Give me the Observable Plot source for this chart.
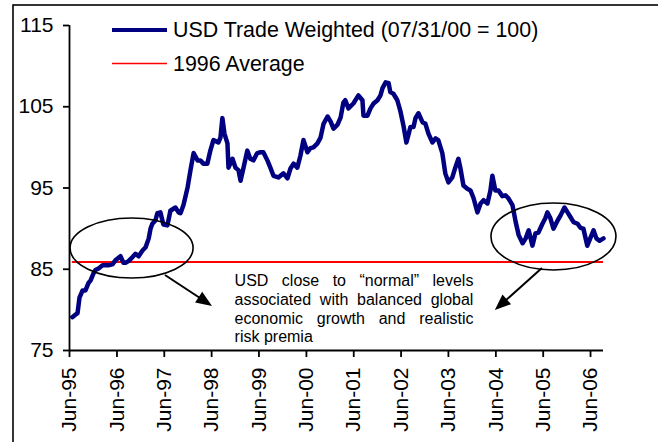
<!DOCTYPE html>
<html><head><meta charset="utf-8">
<script src="https://cdn.jsdelivr.net/npm/d3@7"></script>
<script src="https://cdn.jsdelivr.net/npm/@observablehq/plot@0.6"></script>
<style>
html,body{margin:0;padding:0;overflow:hidden;background:#fff;}
#chart{position:relative;width:658px;height:442px;}
</style></head><body><div id="chart"></div>
<script>
// ---- data ----
const dates = [
"1995-06-23","1995-07-16","1995-08-02","1995-08-17","1995-09-10","1995-10-02","1995-10-25","1995-11-10","1995-12-03","1995-12-18",
"1996-01-11","1996-02-11","1996-03-04","1996-03-27","1996-04-27","1996-05-20","1996-06-28","1996-07-21","1996-08-06","1996-08-29",
"1996-09-29","1996-10-22","1996-11-15","1996-12-15","1997-01-08","1997-02-01","1997-02-15","1997-03-01","1997-03-24","1997-04-09",
"1997-05-02","1997-05-25","1997-06-25","1997-07-18","1997-08-26","1997-09-19","1997-10-04","1997-10-27","1997-11-28","1997-12-20",
"1998-01-13","1998-02-13","1998-03-06","1998-03-29","1998-04-29","1998-05-22","1998-06-15","1998-07-23","1998-08-08","1998-08-23",
"1998-09-08","1998-10-01","1998-10-09","1998-11-09","1998-12-02","1998-12-25","1999-01-10","1999-02-02","1999-03-03","1999-03-26",
"1999-04-19","1999-05-19","1999-06-12","1999-07-05","1999-08-05","1999-08-28","1999-09-21","1999-10-29","1999-12-07","2000-01-07",
"2000-01-30","2000-02-23","2000-03-23","2000-04-16","2000-05-09","2000-06-09","2000-07-02","2000-07-25","2000-08-25","2000-09-18",
"2000-10-11","2000-11-11","2000-12-04","2000-12-27","2001-01-27","2001-02-20","2001-03-13","2001-03-28","2001-04-21","2001-05-29",
"2001-07-07","2001-08-07","2001-08-15","2001-09-15","2001-10-08","2001-11-01","2001-12-01","2001-12-24","2002-01-09","2002-02-02",
"2002-02-25","2002-03-10","2002-04-03","2002-05-03","2002-05-26","2002-06-19","2002-07-12","2002-07-27","2002-08-12","2002-09-05",
"2002-09-20","2002-10-13","2002-11-13","2002-12-06","2002-12-29","2003-01-29","2003-02-22","2003-03-15","2003-04-15","2003-05-08",
"2003-06-01","2003-07-01","2003-07-24","2003-08-17","2003-09-02","2003-09-25","2003-10-25","2003-11-18","2003-12-11","2004-01-11",
"2004-02-04","2004-02-27","2004-03-28","2004-04-20","2004-05-05","2004-05-28","2004-06-21","2004-07-21","2004-08-14","2004-09-07",
"2004-10-07","2004-11-01","2004-11-24","2004-12-24","2005-01-17","2005-02-09","2005-03-10","2005-04-02","2005-04-25","2005-05-26",
"2005-06-18","2005-07-03","2005-07-26","2005-08-19","2005-09-20","2005-10-12","2005-11-12","2005-12-06","2005-12-29","2006-01-21",
"2006-02-21","2006-03-15","2006-04-07","2006-05-07","2006-06-01","2006-06-24","2006-07-16","2006-08-09","2006-09-09"
];
const values = [
79.1,79.4,79.6,81.5,82.4,82.4,83.3,83.6,84.5,84.9,
85.1,85.5,85.5,85.5,85.6,86.1,86.6,85.8,85.8,86.0,
86.5,86.9,86.6,87.3,87.7,88.8,90.0,90.6,91.0,91.9,
92.0,90.5,90.4,92.2,92.6,92.0,91.9,92.9,95.1,97.2,
99.3,98.4,98.4,98.0,98.0,99.6,100.9,100.6,101.2,103.6,
101.7,100.5,97.5,98.6,97.5,97.2,95.9,97.5,99.6,98.6,
98.4,99.3,99.4,99.4,98.4,97.5,96.5,96.3,96.8,96.2,
97.4,98.0,97.5,99.0,100.9,99.4,99.9,100.0,100.5,101.2,
102.9,103.8,103.2,102.3,102.8,103.7,105.5,105.8,104.8,105.4,
106.4,105.8,103.9,103.9,104.8,105.4,105.8,106.4,107.3,108.0,
107.9,106.8,106.6,105.8,104.5,102.7,100.6,101.5,102.5,102.5,
103.6,104.2,103.1,102.9,101.7,100.6,101.1,100.9,99.3,96.8,
95.7,96.3,97.5,98.6,97.4,95.3,94.9,94.7,93.8,92.0,
93.1,93.5,93.1,94.7,96.5,94.7,94.7,94.0,94.1,93.7,
92.9,90.8,89.2,88.2,88.8,89.8,87.9,89.4,89.5,90.6,
91.3,92.0,91.3,90.0,91.0,91.6,92.6,92.0,91.4,90.8,
90.6,90.1,90.0,87.9,88.9,89.8,88.8,88.5,88.8
];
const seriesName = "USD Trade Weighted (07/31/00 = 100)";
const avgName = "1996 Average";
const avg1996 = 85.9;
const yTicks = [75, 85, 95, 105, 115];
const xTicks = ["1995-06-01","1996-06-01","1997-06-01","1998-06-01","1999-06-01","2000-06-01",
                "2001-06-01","2002-06-01","2003-06-01","2004-06-01","2005-06-01","2006-06-01"];
const xDomain = ["1995-06-01", "2006-09-09"];
const noteLines = ["USD close to \u201cnormal\u201d levels", "associated with balanced global",
                   "economic growth and realistic", "risk premia"];
const noteBox = {x1: "1998-11-25", x2: "2003-12-11", y: 80.2};
const ellipses = [
  {x1: "1995-06-09", x2: "1998-01-13", y1: 83.86, y2: 91.25},
  {x1: "2004-04-28", x2: "2006-12-18", y1: 84.85, y2: 93.09}
];
const arrows = [
  {x1: "1997-06-10", y1: 84.23, x2: "1998-06-08", y2: 80.42},
  {x1: "2005-05-26", y1: 85.09, x2: "2004-05-28", y2: 79.92}
];

// ---- build ----
const D = s => new Date(s + "T00:00:00Z");
const series = dates.map((d, i) => ({date: D(d), value: values[i]}));
const FONT = "Liberation Sans, Arial, sans-serif";

const chart = Plot.plot({
  width: 658, height: 442,
  marginLeft: 69, marginRight: 55, marginTop: 25, marginBottom: 92,
  style: {fontFamily: FONT, color: "black", background: "white", overflow: "hidden"},
  x: {type: "utc", domain: xDomain.map(D)},
  y: {domain: [75, 115]},
  marks: [
    Plot.ruleY([avg1996], {x1: series[0].date, x2: series[series.length - 1].date, stroke: "#ff0000", strokeWidth: 2}),
    Plot.line(series, {x: "date", y: "value", stroke: "#000080", strokeWidth: 4.5, strokeLinejoin: "round", strokeLinecap: "round"}),
    Plot.ruleX([D(xDomain[0])], {y1: 75, y2: 115, stroke: "black", strokeWidth: 1.8}),
    Plot.ruleY([75], {stroke: "black", strokeWidth: 1.8}),
    Plot.axisY({ticks: yTicks, tickSize: 6, tickPadding: 10, fontSize: 21, strokeWidth: 1.8, label: null, tickFormat: d => String(d)}),
    Plot.axisX({ticks: xTicks.map(D), tickFormat: d3.utcFormat("%b-%y"), tickRotate: -90, tickSize: 7, tickPadding: 10,
                fontSize: 21, strokeWidth: 1.8, label: null}),
    Plot.text([{x: D(noteBox.x1), y: noteBox.y, text: noteLines.join("\n")}],
              {x: "x", y: "y", text: "text", textAnchor: "start", lineAnchor: "middle", lineHeight: 1.17,
               fontSize: 16, fill: "black"})
  ]
});
document.getElementById("chart").appendChild(chart);

const X = chart.scale("x"), Y = chart.scale("y");
const svg = d3.select(chart);

// justify annotation lines
const targetW = X.apply(D(noteBox.x2)) - X.apply(D(noteBox.x1));
svg.selectAll("tspan").each(function () {
  const t = this.textContent;
  const i = noteLines.indexOf(t);
  if (i >= 0 && i < noteLines.length - 1) {
    const w = this.getComputedTextLength();
    const n = (t.match(/ /g) || []).length;
    if (n > 0) this.style.wordSpacing = ((targetW - w) / n) + "px";
  }
});

// ellipses
const ann = svg.append("g");
for (const e of ellipses) {
  const xa = X.apply(D(e.x1)), xb = X.apply(D(e.x2));
  const ya = Y.apply(e.y1), yb = Y.apply(e.y2);
  ann.append("ellipse").attr("cx", (xa + xb) / 2).attr("cy", (ya + yb) / 2)
    .attr("rx", Math.abs(xb - xa) / 2).attr("ry", Math.abs(yb - ya) / 2)
    .attr("fill", "none").attr("stroke", "black").attr("stroke-width", 1.6);
}
// arrows with filled heads
for (const a of arrows) {
  const p1 = [X.apply(D(a.x1)), Y.apply(a.y1)], p2 = [X.apply(D(a.x2)), Y.apply(a.y2)];
  const dx = p2[0] - p1[0], dy = p2[1] - p1[1], L = Math.hypot(dx, dy);
  const ux = dx / L, uy = dy / L, nx = -uy, ny = ux;
  const hl = 16, hw = 6.5;
  const bx = p2[0] - ux * hl, by = p2[1] - uy * hl;
  ann.append("line").attr("x1", p1[0]).attr("y1", p1[1]).attr("x2", bx + ux * 2).attr("y2", by + uy * 2)
    .attr("stroke", "black").attr("stroke-width", 2);
  ann.append("path").attr("d", `M${p2[0]},${p2[1]}L${bx + nx * hw},${by + ny * hw}L${bx - nx * hw},${by - ny * hw}Z`)
    .attr("fill", "black");
}

// legend
const lg = svg.append("g").attr("font-family", FONT).attr("font-size", 21.4).attr("text-anchor", "start");
lg.append("line").attr("x1", 112).attr("x2", 167).attr("y1", 30).attr("y2", 30).attr("stroke", "#000080").attr("stroke-width", 4);
lg.append("text").attr("x", 173).attr("y", 30).attr("dy", "0.35em").attr("text-anchor", "start").text(seriesName);
lg.append("line").attr("x1", 112).attr("x2", 167).attr("y1", 63.5).attr("y2", 63.5).attr("stroke", "#ff0000").attr("stroke-width", 1.5);
lg.append("text").attr("x", 173).attr("y", 64).attr("dy", "0.35em").attr("text-anchor", "start").text(avgName);

// outer border
svg.append("rect").attr("x", 13).attr("y", 5).attr("width", 700).attr("height", 500)
  .attr("fill", "none").attr("stroke", "black").attr("stroke-width", 1.6);
</script></body></html>
